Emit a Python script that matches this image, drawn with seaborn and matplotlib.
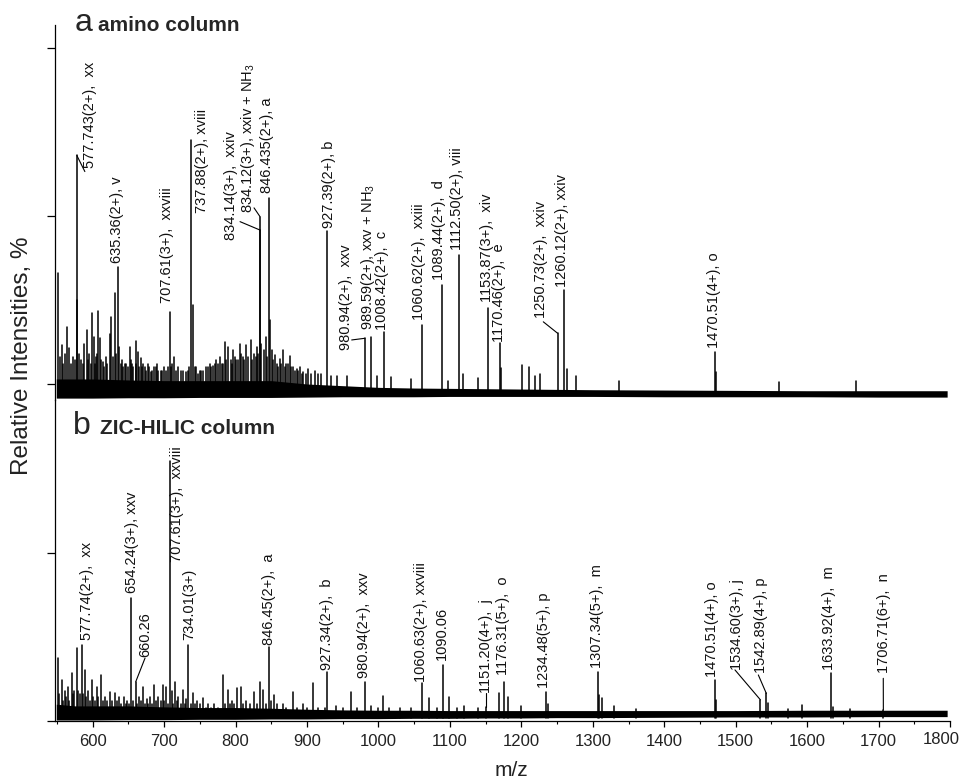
import matplotlib
matplotlib.use("Agg")
import matplotlib.pyplot as plt
from matplotlib.ticker import MultipleLocator, NullFormatter
from matplotlib.transforms import ScaledTranslation
import pandas as pd
import seaborn as sns

# ---------------------------------------------------------------- data
# baseline noise band (upper / lower envelope) for both spectra
env_mz = [549, 575, 600, 650, 700, 750, 800, 850, 900, 950, 1000, 1050,
          1100, 1150, 1200, 1250, 1300, 1400, 1500, 1600, 1700, 1796]
a_noise_top = [1.5, 1.5, 1.5, 1.2, 1.0, 1.0, 1.0, 1.0, 0.0, -0.5, -1.0, -1.2,
               -1.3, -1.4, -1.5, -1.6, -1.7, -1.8, -1.9, -2.0, -2.0, -2.0]
a_noise_bottom = [-4.2, -4.2, -4.2, -4.1, -4.1, -4.0, -4.0, -4.0, -3.9, -3.8, -3.8, -3.8,
                  -3.7, -3.7, -3.7, -3.7, -3.7, -3.8, -3.8, -3.8, -3.9, -3.9]
b_noise_top = [5.0, 4.5, 4.5, 4.5, 4.2, 4.0, 4.0, 3.8, 3.5, 3.3, 3.2, 3.2,
               3.1, 3.1, 3.1, 3.1, 3.1, 3.1, 3.1, 3.2, 3.2, 3.2]
b_noise_bottom = [0.3, 0.3, 0.3, 0.4, 0.4, 0.5, 0.5, 0.6, 0.6, 0.7, 0.7, 0.8,
                  0.8, 0.9, 0.9, 1.0, 1.0, 1.1, 1.2, 1.2, 1.3, 1.3]

# (a) amino column: annotated peaks
a_peak_mz = [577.743, 635.36, 707.61, 737.88, 834.14, 834.12, 846.435, 927.39,
             980.94, 989.59, 1008.42, 1060.62, 1089.44, 1112.50, 1153.87,
             1170.46, 1250.73, 1260.12, 1470.51]
a_peak_int = [68.0, 34.9, 21.5, 72.6, 45.8, 49.8, 55.4, 45.5, 13.6, 14.1, 15.6,
              17.6, 29.5, 38.4, 22.5, 12.1, 15.1, 28.0, 9.6]
a_peak_text = ["577.743(2+),  xx", "635.36(2+), v", "707.61(3+),  xxviii",
               "737.88(2+), xviii", "834.14(3+),  xxiv", "834.12(3+), xxiv + NH$_3$",
               "846.435(2+), a", "927.39(2+), b", "980.94(2+),  xxv",
               "989.59(2+), xxv + NH$_3$", "1008.42(2+),  c", "1060.62(2+),  xxiii",
               "1089.44(2+),  d", "1112.50(2+), viii", "1153.87(3+),  xiv",
               "1170.46(2+),  e", "1250.73(2+),  xxiv", "1260.12(2+), xxiv",
               "1470.51(4+), o"]
a_text_mz = [590.6, 628.8, 698.8, 747.4, 787.5, 808.5, 838.8, 925.1, 948.5, 976.4,
             999.3, 1051.1, 1079.1, 1104.7, 1146.7, 1163.1, 1221.4, 1251.7, 1464.0]
a_text_int = [64.3, 35.9, 24.1, 51.0, 42.9, 50.9, 56.9, 46.3, 10.1, 16.1, 16.1,
              19.0, 31.0, 39.9, 24.5, 12.6, 19.6, 29.0, 10.6]
# leader lines: peak, height where the leader leaves it, end point near the label
a_lead_mz = [577.743, 834.14, 834.12, 980.94, 1250.73]
a_lead_from = [61.2, 45.8, 49.8, 13.6, 15.1]
a_lead_to_mz = [589.0, 806.2, 825.8, 962.5, 1230.7]
a_lead_to_int = [63.2, 48.3, 52.4, 13.1, 18.5]

# (a) unannotated peaks
a_minor_mz = [551.8, 553.5, 556.5, 559.0, 561.0, 563.5, 567.2, 570.0, 572.0, 575.0,
              578.6, 581.0, 584.0, 586.0, 588.0, 591.5, 593.0, 595.0, 597.0, 598.5,
              601.7, 603.0, 604.5, 606.0, 607.9, 610.0, 612.0, 614.6, 616.0, 618.0,
              620.0, 623.5, 626.0, 628.0, 630.6, 633.0, 637.0, 639.0, 641.0, 643.0,
              645.0, 647.0, 649.5, 651.5, 653.0, 655.0, 657.0, 659.9, 661.0, 663.0,
              665.0, 667.0, 669.0, 671.0, 673.0, 675.0, 677.0, 679.0, 681.0, 683.0,
              686.0, 688.0, 690.0, 692.0, 695.0, 697.0, 700.0, 703.0, 705.0, 709.0,
              711.0, 714.0, 717.0, 720.0, 723.0, 726.0, 730.0, 733.0, 735.0, 740.6,
              743.0, 745.0, 748.0, 750.0, 752.0, 755.0, 758.0, 761.0, 764.0, 766.0,
              769.0, 771.0, 773.0, 776.0, 778.0, 781.0, 783.0, 785.0, 787.0, 790.0,
              793.0, 795.0, 797.0, 799.0, 801.0, 804.0, 806.0, 808.0, 810.0, 812.0,
              815.0, 818.0, 821.0, 823.0, 826.0, 828.0, 829.5, 832.0, 836.0, 840.0,
              842.0, 844.0, 848.5, 851.0, 853.0, 855.0, 858.0, 860.0, 862.0, 864.0,
              867.0, 869.0, 871.0, 873.0, 876.0, 878.0, 880.0, 883.0, 885.3, 888.0,
              890.0, 893.0, 895.0, 898.0, 901.0, 905.0, 911.0, 915.0, 920.0, 933.0,
              942.0, 956.0, 998.0, 1017.0, 1046.0, 1098.0, 1119.0, 1140.0, 1172.0,
              1200.5, 1211.0, 1219.0, 1226.0, 1264.5, 1277.0, 1336.0, 1472.5, 1560.0,
              1668.0]
a_minor_int = [33.0, 8.0, 11.6, 6.0, 9.0, 17.0, 10.7, 6.0, 8.0, 7.0,
               25.0, 9.0, 7.0, 6.0, 12.0, 16.0, 7.0, 9.0, 6.0, 21.0,
               14.0, 6.0, 8.0, 9.0, 21.7, 13.7, 7.0, 6.6, 5.0, 8.0,
               6.0, 15.0, 20.0, 8.0, 27.0, 9.0, 11.0, 6.0, 7.0, 5.0,
               6.0, 6.0, 5.0, 11.0, 7.0, 6.0, 5.0, 12.8, 6.0, 9.6,
               5.0, 7.6, 5.0, 6.0, 5.0, 4.0, 6.0, 5.0, 3.5, 4.0,
               5.0, 5.0, 6.0, 4.0, 4.0, 4.0, 5.0, 4.0, 5.0, 5.0,
               6.0, 8.0, 4.0, 5.0, 4.0, 4.0, 3.5, 4.0, 5.0, 23.5,
               5.0, 5.0, 3.0, 4.0, 4.0, 4.0, 5.0, 5.0, 6.0, 5.0,
               5.5, 6.0, 7.0, 6.0, 8.0, 6.0, 6.0, 12.6, 7.0, 11.0,
               7.0, 6.0, 10.0, 8.0, 7.0, 7.0, 12.0, 9.0, 8.0, 7.0,
               11.6, 8.0, 13.0, 7.0, 9.0, 8.0, 11.0, 9.0, 12.0, 10.0,
               14.0, 8.0, 19.0, 10.0, 7.0, 8.5, 6.0, 5.0, 7.5, 6.0,
               10.0, 5.0, 6.0, 6.0, 8.4, 5.0, 5.0, 4.0, 4.4, 4.0,
               5.2, 3.0, 3.5, 3.0, 4.4, 3.0, 4.0, 3.0, 3.0, 2.4,
               2.4, 2.4, 2.5, 2.0, 1.5, 1.0, 2.9, 1.9, 4.8,
               5.8, 5.0, 2.4, 2.9, 4.4, 2.4, 1.0, 3.5, 0.5,
               1.0]

# (b) ZIC-HILIC column: annotated peaks
b_peak_mz = [577.74, 654.24, 660.26, 707.61, 734.01, 846.45, 927.34, 980.94,
             1060.63, 1090.06, 1151.20, 1176.31, 1234.48, 1307.34, 1470.51,
             1534.60, 1542.89, 1633.92, 1706.71]
b_peak_int = [21.6, 36.5, 11.7, 77.4, 22.6, 22.1, 14.7, 11.7, 11.2, 16.7, 4.3,
              11.7, 8.7, 14.7, 12.2, 6.3, 8.2, 14.2, 3.3]
b_peak_text = ["577.74(2+),  xx", "654.24(3+), xxv", "660.26", "707.61(3+),  xxviii",
               "734.01(3+)", "846.45(2+),  a", "927.34(2+),  b", "980.94(2+),  xxv",
               "1060.63(2+), xxviii", "1090.06", "1151.20(4+),  j", "1176.31(5+),  o",
               "1234.48(5+), p", "1307.34(5+),  m", "1470.51(4+), o", "1534.60(3+), j",
               "1542.89(4+), p", "1633.92(4+),  m", "1706.71(6+),  n"]
b_text_mz = [585.9, 649.8, 668.5, 712.8, 729.2, 841.2, 922.3, 974.1, 1053.4, 1083.3,
             1144.5, 1168.7, 1226.1, 1300.3, 1461.2, 1496.6, 1529.4, 1625.4, 1702.0]
b_text_int = [24.1, 38.0, 19.1, 47.4, 24.1, 22.6, 15.2, 12.8, 11.7, 18.2, 8.2,
              13.7, 9.7, 15.7, 13.2, 15.2, 14.2, 15.2, 14.2]
b_lead_mz = [660.26, 1151.20, 1534.60, 1542.89, 1706.71]
b_lead_from = [11.7, 4.3, 6.3, 8.2, 3.3]
b_lead_to_mz = [673.2, 1151.2, 1499.0, 1531.7, 1706.6]
b_lead_to_int = [18.7, 8.2, 15.2, 13.7, 12.7]

# (b) unannotated peaks
b_minor_mz = [551.8, 553.0, 556.6, 558.0, 560.5, 562.0, 565.0, 567.0, 570.6, 572.0,
              574.0, 580.0, 582.0, 584.6, 587.0, 589.2, 591.0, 593.0, 596.0, 598.5,
              601.0, 603.0, 605.5, 608.0, 611.6, 614.0, 617.0, 620.0, 624.2, 627.0,
              631.2, 634.0, 637.2, 640.0, 643.8, 646.0, 648.0, 651.0, 657.0, 662.0,
              665.0, 667.0, 670.8, 673.0, 676.0, 678.0, 680.0, 683.0, 685.8, 688.0,
              692.0, 695.0, 698.8, 700.0, 703.0, 706.0, 710.5, 712.0, 715.2, 718.0,
              720.0, 723.0, 726.0, 729.0, 731.0, 737.0, 740.8, 743.0, 746.0, 750.0,
              754.8, 758.0, 762.0, 766.0, 770.0, 775.0, 782.0, 785.0, 789.8, 792.0,
              795.0, 798.0, 802.4, 807.6, 811.0, 815.0, 820.0, 825.8, 830.0, 834.2,
              838.8, 843.0, 849.0, 853.8, 858.0, 866.0, 871.0, 880.8, 886.0, 895.0,
              900.0, 907.9, 915.0, 925.0, 940.0, 950.0, 961.1, 970.0, 990.0, 1000.0,
              1006.8, 1015.0, 1030.0, 1045.0, 1071.2, 1082.0, 1099.2, 1110.0, 1120.0,
              1140.0, 1168.7, 1181.7, 1199.0, 1237.0, 1309.0, 1312.5, 1330.0, 1361.0,
              1473.0, 1545.5, 1573.7, 1592.4, 1636.0, 1660.0]
b_minor_int = [18.7, 8.0, 12.2, 6.0, 9.0, 7.0, 10.0, 6.0, 14.2, 8.0,
               9.0, 9.0, 8.0, 22.6, 8.0, 15.2, 7.0, 9.0, 6.0, 12.2,
               7.0, 6.0, 10.2, 7.0, 13.7, 6.0, 7.0, 6.0, 8.7, 6.0,
               8.2, 6.0, 7.2, 5.0, 7.2, 5.0, 6.0, 5.0, 6.0, 5.0,
               7.0, 6.0, 10.2, 5.0, 6.5, 5.0, 7.0, 5.0, 10.7, 6.0,
               7.0, 6.0, 10.7, 6.0, 10.2, 5.0, 9.0, 5.0, 11.7, 6.0,
               7.0, 5.0, 9.2, 5.0, 6.5, 5.0, 8.2, 5.0, 6.0, 5.0,
               6.7, 4.0, 5.0, 4.0, 5.0, 4.0, 13.7, 5.0, 9.2, 5.0,
               6.0, 5.0, 9.7, 10.2, 5.0, 6.0, 5.0, 8.7, 5.0, 11.7,
               9.2, 5.0, 6.0, 7.7, 5.0, 5.0, 4.0, 8.7, 4.0, 5.0,
               4.0, 11.4, 4.0, 4.0, 4.5, 4.0, 8.7, 4.0, 4.5, 4.0,
               7.4, 4.0, 4.0, 4.0, 6.7, 4.0, 7.2, 4.0, 4.5,
               4.0, 8.2, 7.2, 4.5, 5.0, 7.7, 6.8, 4.5, 3.7,
               6.3, 5.5, 3.7, 4.7, 4.2, 3.5]

x_ticks = [600, 700, 800, 900, 1000, 1100, 1200, 1300, 1400, 1500, 1600, 1700, 1800]

# ---------------------------------------------------------------- style
sns.set_theme(style="ticks")
plt.rcParams["font.family"] = ["Liberation Sans", "DejaVu Sans"]
plt.rcParams["mathtext.fontset"] = "custom"
plt.rcParams["mathtext.rm"] = "Liberation Sans"
plt.rcParams["mathtext.it"] = "Liberation Sans:italic"
plt.rcParams["axes.linewidth"] = 0.9
plt.rcParams["axes.edgecolor"] = "black"

W, H = 961, 781
fig = plt.figure(figsize=(W / 100, H / 100), dpi=100)
left, right = 55 / W, 950 / W
ax_a = fig.add_axes([left, (H - 400) / H, right - left, 375 / H])
ax_b = fig.add_axes([left, (H - 721) / H, right - left, 321 / H])

XMIN, XMAX = 547.2, 1800


def stick_frame(mz, inten, base):
    rows = []
    for i, (m, h) in enumerate(zip(mz, inten)):
        rows.append((i, m, base))
        rows.append((i, m, h))
    return pd.DataFrame(rows, columns=["peak", "mz", "intensity"])


def draw_panel(ax, top, bottom, base, minor_mz, minor_int, peak_mz, peak_int,
               texts, text_mz, text_int, lead_mz, lead_from, lead_to_mz, lead_to_int):
    ax.fill_between(env_mz, bottom, top, color="black", lw=0, zorder=2)
    sticks = pd.concat([stick_frame(minor_mz, minor_int, base).assign(kind="minor"),
                        stick_frame(peak_mz, peak_int, base).assign(kind="major")])
    sticks["peak"] = sticks["kind"] + sticks["peak"].astype(str)
    sns.lineplot(data=sticks, x="mz", y="intensity", units="peak", estimator=None,
                 color="black", lw=1.1, ax=ax, zorder=3, legend=False)
    for m, f, tm, ti in zip(lead_mz, lead_from, lead_to_mz, lead_to_int):
        h = peak_int[peak_mz.index(m)]
        ax.plot([m, m, tm], [h, max(h, f), ti], color="black", lw=0.8, zorder=3)
    for s, tm, ti in zip(texts, text_mz, text_int):
        ax.annotate(s, xy=(tm, ti), xytext=(-2.2, 0), textcoords="offset points",
                    rotation=90, ha="left", va="bottom", fontsize=10.5,
                    color="#111111", zorder=4)


draw_panel(ax_a, a_noise_top, a_noise_bottom, -3.0, a_minor_mz, a_minor_int,
           a_peak_mz, a_peak_int, a_peak_text, a_text_mz, a_text_int,
           a_lead_mz, a_lead_from, a_lead_to_mz, a_lead_to_int)
draw_panel(ax_b, b_noise_top, b_noise_bottom, 1.0, b_minor_mz, b_minor_int,
           b_peak_mz, b_peak_int, b_peak_text, b_text_mz, b_text_int,
           b_lead_mz, b_lead_from, b_lead_to_mz, b_lead_to_int)

# ---------------------------------------------------------------- axes
ax_a.set_xlim(XMIN, XMAX)
ax_b.set_xlim(XMIN, XMAX)
ax_a.set_ylim(-4.76, 106.8)
ax_b.set_ylim(0, 95.5)
ax_a.set_yticks([0, 50, 100])
ax_b.set_yticks([0, 50])
for ax in (ax_a, ax_b):
    ax.set_yticklabels([])
    ax.set_xlabel("")
    ax.set_ylabel("")
    ax.patch.set_alpha(0)
    ax.tick_params(axis="y", direction="out", length=5.5, width=0.9, color="black")
    for s in ("top", "right"):
        ax.spines[s].set_visible(False)
ax_a.spines["bottom"].set_visible(False)
ax_a.tick_params(axis="x", bottom=False, labelbottom=False)

ax_b.set_xticks(x_ticks)
ax_b.set_xticklabels([str(t) for t in x_ticks])
ax_b.xaxis.set_minor_locator(MultipleLocator(50))
ax_b.xaxis.set_minor_formatter(NullFormatter())
ax_b.tick_params(axis="x", which="major", direction="out", length=4.3, width=0.9,
                 pad=5, labelsize=12, color="black", labelcolor="#222222")
ax_b.tick_params(axis="x", which="minor", direction="out", length=2.2, width=0.8,
                 color="black")
# last tick label sits slightly inward so it stays inside the figure
last = ax_b.get_xticklabels()[-1]
last.set_transform(last.get_transform() + ScaledTranslation(-6 / 72, 1.5 / 72,
                                                             fig.dpi_scale_trans))

# ---------------------------------------------------------------- text
fig.text(75 / W, 1 - 31 / H, "a", fontsize=23, va="baseline", ha="left")
fig.text(98 / W, 1 - 31 / H, "amino column", fontsize=15, fontweight="bold",
         va="baseline", ha="left")
fig.text(73 / W, 1 - 434 / H, "b", fontsize=23, va="baseline", ha="left")
fig.text(100 / W, 1 - 434 / H, "ZIC-HILIC column", fontsize=15, fontweight="bold",
         va="baseline", ha="left")
fig.text(22 / W, 1 - 356 / H, "Relative Intensities, %", fontsize=17.5,
         rotation=90, ha="center", va="center", color="#222222")
fig.text(511 / W, 1 - 771 / H, "m/z", fontsize=15, ha="center", va="center",
         color="#222222")

fig.savefig("out.png", dpi=100)
